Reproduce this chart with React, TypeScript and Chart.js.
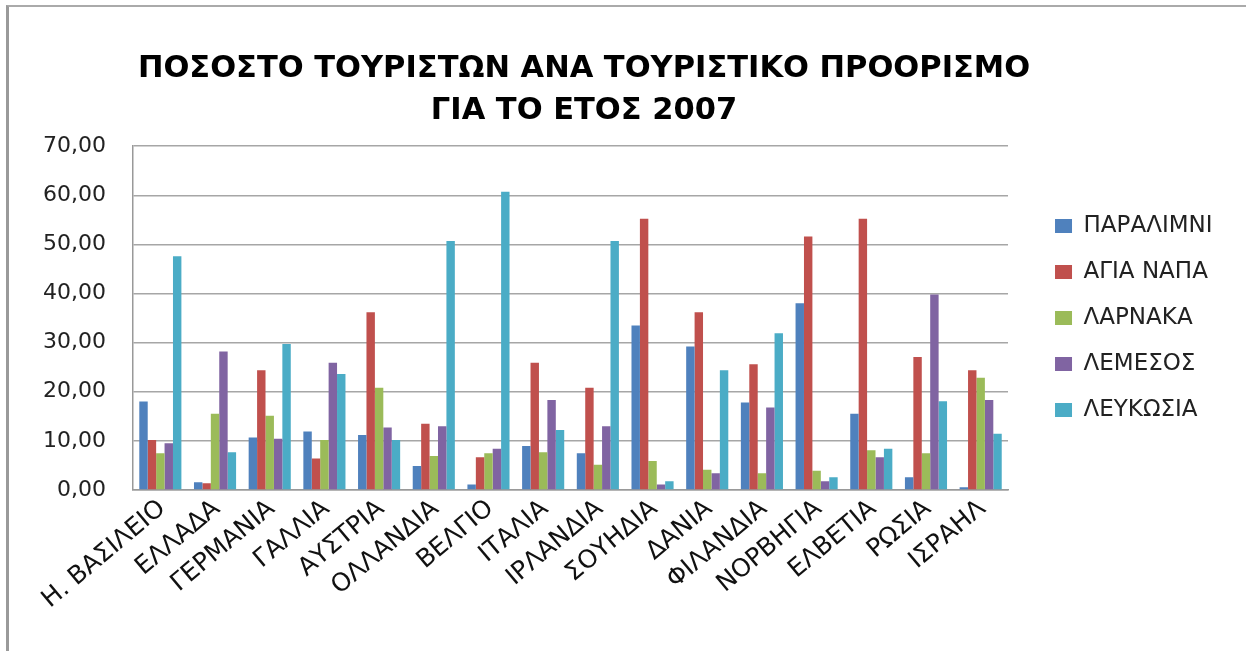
import React, { useEffect, useRef } from "react";
import { Chart, registerables } from "chart.js";

Chart.register(...registerables);

const TITLE_LINES = ["ΠΟΣΟΣΤΟ ΤΟΥΡΙΣΤΩΝ ΑΝΑ ΤΟΥΡΙΣΤΙΚΟ ΠΡΟΟΡΙΣΜΟ", "ΓΙΑ ΤΟ ΕΤΟΣ 2007"];

const CATEGORIES = [
  "Η. ΒΑΣΙΛΕΙΟ", "ΕΛΛΑΔΑ", "ΓΕΡΜΑΝΙΑ", "ΓΑΛΛΙΑ", "ΑΥΣΤΡΙΑ", "ΟΛΛΑΝΔΙΑ", "ΒΕΛΓΙΟ", "ΙΤΑΛΙΑ",
  "ΙΡΛΑΝΔΙΑ", "ΣΟΥΗΔΙΑ", "ΔΑΝΙΑ", "ΦΙΛΑΝΔΙΑ", "ΝΟΡΒΗΓΙΑ", "ΕΛΒΕΤΙΑ", "ΡΩΣΙΑ", "ΙΣΡΑΗΛ",
];

const SERIES_NAMES = ["ΠΑΡΑΛΙΜΝΙ", "ΑΓΙΑ ΝΑΠΑ", "ΛΑΡΝΑΚΑ", "ΛΕΜΕΣΟΣ", "ΛΕΥΚΩΣΙΑ"];

const PARALIMNI = [18.0, 1.6, 10.7, 11.9, 11.2, 4.9, 1.1, 8.95, 7.5, 33.5, 29.2, 17.8, 38.0, 15.5, 2.6, 0.55];
const AGIA_NAPA = [10.2, 1.35, 24.4, 6.4, 36.2, 13.5, 6.65, 25.9, 20.8, 55.2, 36.2, 25.6, 51.6, 55.2, 27.1, 24.4];
const LARNAKA = [7.5, 15.5, 15.1, 10.2, 20.8, 6.9, 7.5, 7.7, 5.15, 5.9, 4.1, 3.4, 3.9, 8.1, 7.5, 22.85];
const LEMESOS = [9.5, 28.2, 10.45, 25.9, 12.75, 13.0, 8.4, 18.3, 13.0, 1.1, 3.4, 16.8, 1.8, 6.65, 39.8, 18.3];
const LEFKOSIA = [47.6, 7.7, 29.7, 23.6, 10.2, 50.7, 60.7, 12.2, 50.7, 1.8, 24.4, 31.9, 2.6, 8.4, 18.05, 11.45];

const Y_MIN = 0;
const Y_MAX = 70;
const Y_STEP = 10;

const COLORS = ["#4F81BD", "#C0504D", "#9BBB59", "#8064A2", "#4BACC6"];

export default function App() {
  const canvasRef = useRef<HTMLCanvasElement | null>(null);

  useEffect(() => {
    if (!canvasRef.current) return;
    const seriesValues = [PARALIMNI, AGIA_NAPA, LARNAKA, LEMESOS, LEFKOSIA];
    const chart = new Chart(canvasRef.current, {
      type: "bar",
      data: {
        labels: CATEGORIES,
        datasets: SERIES_NAMES.map((name, i) => ({
          label: name,
          data: seriesValues[i],
          backgroundColor: COLORS[i],
          borderWidth: 0,
          categoryPercentage: 0.77,
          barPercentage: 1.0,
          yAxisID: "y",
        })),
      },
      options: {
        animation: false,
        responsive: false,
        devicePixelRatio: 1,
        layout: { padding: { left: -54.5, right: 23.5, top: 0, bottom: 0 } },
        plugins: {
          title: {
            display: true,
            text: TITLE_LINES,
            color: "#000",
            font: { family: "DejaVu Sans", size: 30.5, weight: "bold", lineHeight: 1.38 },
            padding: { top: 48, bottom: 14 },
          },
          legend: {
            display: true,
            position: "right",
            fullSize: false,
            labels: {
              boxWidth: 17,
              boxHeight: 14,
              padding: 23,
              color: "#222",
              font: { family: "DejaVu Sans", size: 23 },
            },
          },
          tooltip: { enabled: false },
        },
        scales: {
          x: {
            grid: { display: false, drawTicks: false },
            border: { display: true, color: "#999", width: 1.5 },
            ticks: {
              autoSkip: false,
              minRotation: 40,
              maxRotation: 40,
              padding: 4,
              labelOffset: 2,
              color: "#111",
              font: { family: "DejaVu Sans", size: 25 },
            },
            afterFit: (s: any) => {
              s.height = 161;
            },
          },
          y: {
            min: Y_MIN,
            max: Y_MAX,
            position: "left",
            grid: { color: "#a6a6a6", lineWidth: 1.5, drawTicks: false },
            border: { display: true, color: "#999", width: 1.5 },
            ticks: {
              stepSize: Y_STEP,
              padding: 27,
              color: "#222",
              font: { family: "DejaVu Sans", size: 22 },
              callback: (v: any) => Number(v).toFixed(2).replace(".", ","),
            },
            afterFit: (s: any) => {
              s.width = 187.5;
            },
          },
          yGap: {
            type: "linear",
            position: "right",
            display: true,
            grid: { display: false, drawTicks: false },
            border: { display: false },
            ticks: { display: false },
            afterFit: (s: any) => {
              s.width = 24;
            },
          },
        },
      },
    });
    return () => chart.destroy();
  }, []);

  return (
    <div style={{ position: "fixed", left: 0, top: 0, width: 1246, height: 651, background: "#fff", overflow: "hidden" }}>
      <div
        style={{
          position: "absolute",
          left: 6,
          top: 5,
          right: -10,
          bottom: -10,
          borderLeft: "3px solid #9a9a9a",
          borderTop: "2px solid #aaaaaa",
        }}
      />
      <canvas ref={canvasRef} width={1246} height={651} style={{ position: "absolute", left: 0, top: 0, width: 1246, height: 651 }} />
    </div>
  );
}
